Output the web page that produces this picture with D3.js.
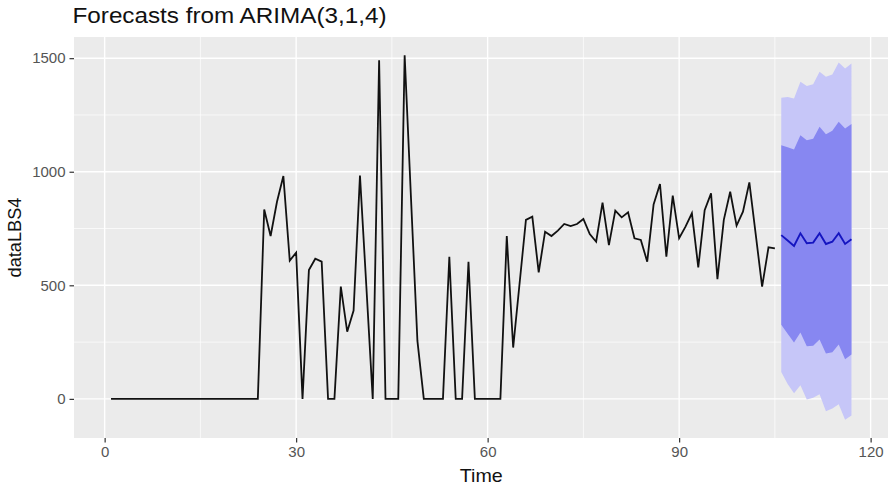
<!DOCTYPE html>
<html>
<head>
<meta charset="utf-8">
<script src="https://cdn.jsdelivr.net/npm/d3@7"></script>
<style>
  html, body { margin: 0; padding: 0; background: #ffffff; }
  svg { display: block; }
  text { font-family: "Liberation Sans", Arial, Helvetica, sans-serif; }
</style>
</head>
<body>
<svg id="chart" width="888" height="487"></svg>
<script>
// ---------------- DATA ----------------
const obsStart = 1;
const observed = [
  0,0,0,0,0,0,0,0,0,0,0,0,0,0,0,0,0,0,0,0,0,0,0,0,      // 1-24
  834,717,868,981,609,644,0,567,617,604,0,0,494,296,389,983, // 25-40
  495,0,1491,0,0,0,1513,880,255,0,0,0,0,626,0,0,604,0,0,0, // 41-60
  0,0,717,226,507,788,802,557,736,717,741,770,761,770,792,726, // 61-76
  692,864,677,829,799,821,707,700,604,856,946,626,895,707,758,817, // 77-92
  579,831,905,527,788,912,763,824,953,724,494,667,663       // 93-105
];
const fcStart = 106;
const fcMean  = [721,697,673,729,685,688,729,682,692,729,682,703];
const fcLo80  = [326,287,248,292,232,234,261,200,205,239,175,195];
const fcHi80  = [1117,1108,1098,1161,1139,1145,1198,1165,1180,1220,1190,1210];
const fcLo95  = [118,66,25,60,-3,5,20,-55,-42,-24,-92,-73];
const fcHi95  = [1326,1329,1322,1396,1378,1385,1440,1418,1428,1481,1455,1477];

const xTicks = [0,30,60,90,120];
const xMinor = [15,45,75,105];
const yTicks = [0,500,1000,1500];
const yMinor = [250,750,1250];

const titleText = "Forecasts from ARIMA(3,1,4)";
const xLabel = "Time";
const yLabel = "dataLBS4";

// ---------------- BUILD ----------------
const obs = observed.map((v,i)=>({t: obsStart+i, v}));
const fc = fcMean.map((m,i)=>({t: fcStart+i, m, lo80: fcLo80[i], hi80: fcHi80[i], lo95: fcLo95[i], hi95: fcHi95[i]}));

const svg = d3.select("#chart");
const panel = {left: 74, right: 888.5, top: 37, bottom: 438};

// ggplot-like 5% expansion
const tMin = obsStart, tMax = fcStart + fcMean.length - 1;
const xr = tMax - tMin;
const allY = observed.concat(fcLo95, fcHi95);
const yMin = d3.min(allY), yMax = d3.max(allY);
const yr = yMax - yMin;

const x = d3.scaleLinear().domain([tMin - 0.05*xr, tMax + 0.05*xr]).range([panel.left, panel.right]);
const y = d3.scaleLinear().domain([yMin - 0.05*yr, yMax + 0.05*yr]).range([panel.bottom, panel.top]);

// panel background
svg.append("rect")
  .attr("x", panel.left).attr("y", panel.top)
  .attr("width", panel.right - panel.left).attr("height", panel.bottom - panel.top)
  .attr("fill", "#EBEBEB");

const grid = svg.append("g");
grid.selectAll("line.xminor").data(xMinor).join("line")
  .attr("class","xminor")
  .attr("x1", d=>x(d)).attr("x2", d=>x(d)).attr("y1", panel.top).attr("y2", panel.bottom)
  .attr("stroke", "#ffffff").attr("stroke-width", 0.7);
grid.selectAll("line.yminor").data(yMinor).join("line")
  .attr("class","yminor")
  .attr("y1", d=>y(d)).attr("y2", d=>y(d)).attr("x1", panel.left).attr("x2", panel.right)
  .attr("stroke", "#ffffff").attr("stroke-width", 0.7);
grid.selectAll("line.xmajor").data(xTicks).join("line")
  .attr("class","xmajor")
  .attr("x1", d=>x(d)).attr("x2", d=>x(d)).attr("y1", panel.top).attr("y2", panel.bottom)
  .attr("stroke", "#ffffff").attr("stroke-width", 1.4);
grid.selectAll("line.ymajor").data(yTicks).join("line")
  .attr("class","ymajor")
  .attr("y1", d=>y(d)).attr("y2", d=>y(d)).attr("x1", panel.left).attr("x2", panel.right)
  .attr("stroke", "#ffffff").attr("stroke-width", 1.4);

// forecast bands
svg.append("path").datum(fc)
  .attr("d", d3.area().x(d=>x(d.t)).y0(d=>y(d.lo95)).y1(d=>y(d.hi95)))
  .attr("fill", "#C6C6F8");
svg.append("path").datum(fc)
  .attr("d", d3.area().x(d=>x(d.t)).y0(d=>y(d.lo80)).y1(d=>y(d.hi80)))
  .attr("fill", "#8787F1");

// observed line
svg.append("path").datum(obs)
  .attr("d", d3.line().x(d=>x(d.t)).y(d=>y(d.v)))
  .attr("fill", "none").attr("stroke", "#111111").attr("stroke-width", 1.8)
  .attr("stroke-linejoin", "miter");

// forecast mean line
svg.append("path").datum(fc)
  .attr("d", d3.line().x(d=>x(d.t)).y(d=>y(d.m)))
  .attr("fill", "none").attr("stroke", "#1515C0").attr("stroke-width", 1.9);

// axes
const xAxis = d3.axisBottom(x).tickValues(xTicks).tickSize(4.5).tickPadding(4).tickFormat(d3.format("d"));
const gx = svg.append("g").attr("transform", `translate(0,${panel.bottom})`).call(xAxis);
gx.select(".domain").remove();
gx.selectAll(".tick line").attr("stroke", "#333333").attr("stroke-width", 1.2);
gx.selectAll(".tick text").attr("fill", "#555555").style("font-size", "15px")
  .style("font-family", "'Liberation Sans', Arial, sans-serif");

const yAxis = d3.axisLeft(y).tickValues(yTicks).tickSize(4.5).tickPadding(4).tickFormat(d3.format("d"));
const gy = svg.append("g").attr("transform", `translate(${panel.left},0)`).call(yAxis);
gy.select(".domain").remove();
gy.selectAll(".tick line").attr("stroke", "#333333").attr("stroke-width", 1.2);
gy.selectAll(".tick text").attr("fill", "#555555").style("font-size", "15px")
  .style("font-family", "'Liberation Sans', Arial, sans-serif");

// titles
svg.append("text").attr("x", 72.5).attr("y", 23)
  .attr("textLength", 314).attr("lengthAdjust", "spacingAndGlyphs")
  .style("font-size", "22px").attr("fill", "#111").text(titleText);

svg.append("text").attr("x", (panel.left + panel.right)/2).attr("y", 482)
  .attr("text-anchor", "middle")
  .attr("textLength", 43).attr("lengthAdjust", "spacingAndGlyphs")
  .style("font-size", "19px").attr("fill", "#111").text(xLabel);

svg.append("text")
  .attr("transform", `translate(21,${(panel.top+panel.bottom)/2}) rotate(-90)`)
  .attr("text-anchor", "middle")
  .attr("textLength", 80).attr("lengthAdjust", "spacingAndGlyphs")
  .style("font-size", "19px").attr("fill", "#111").text(yLabel);
</script>
</body>
</html>
